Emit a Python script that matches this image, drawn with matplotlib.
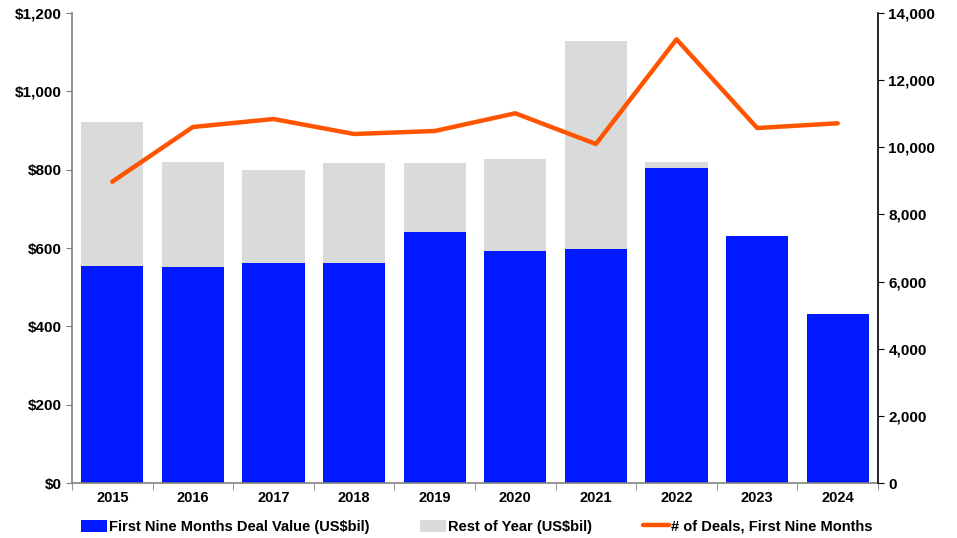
import numpy as np
import matplotlib
matplotlib.use("Agg")
import matplotlib.pyplot as plt
from matplotlib.ticker import FuncFormatter

years = ["2015", "2016", "2017", "2018", "2019", "2020", "2021", "2022", "2023", "2024"]
first_nine = [555, 551, 562, 562, 640, 593, 598, 805, 631, 431]
full_year = [921, 819, 799, 818, 817, 827, 1128, 820, 631, 431]
rest_of_year = [f - n for f, n in zip(full_year, first_nine)]
deals = [8975, 10605, 10843, 10396, 10486, 11013, 10098, 13217, 10575, 10715]

blue = "#0019FF"
grey = "#D9DADA"
orange = "#FF5500"

plt.rcParams["font.family"] = ["Liberation Sans", "DejaVu Sans"]
plt.rcParams["font.weight"] = "bold"

fig = plt.figure(figsize=(9.57, 5.38), dpi=100)
ax = fig.add_axes([0.0752, 0.1022, 0.8423, 0.8736])
ax2 = ax.twinx()

x = np.arange(len(years))
ax.bar(x, first_nine, width=0.77, color=blue, label="First Nine Months Deal Value (US$bil)", zorder=2)
ax.bar(x, rest_of_year, width=0.77, bottom=first_nine, color=grey,
       label="Rest of Year (US$bil)", zorder=2)
ax2.plot(x, deals, color=orange, lw=3.2, solid_capstyle="round",
         label="# of Deals, First Nine Months")

ax.set_xlim(-0.5, len(years) - 0.5)
ax.set_ylim(0, 1200)
ax.set_yticks(np.arange(0, 1201, 200))
ax.yaxis.set_major_formatter(FuncFormatter(lambda v, p: f"${v:,.0f}"))
ax2.set_ylim(0, 14000)
ax2.set_yticks(np.arange(0, 14001, 2000))
ax2.yaxis.set_major_formatter(FuncFormatter(lambda v, p: f"{v:,.0f}"))

# category labels centred, ticks between categories
ax.set_xticks(x)
ax.set_xticklabels(years, fontsize=10.5, fontweight="bold")
ax.tick_params(axis="x", length=0, pad=6)
ax.set_xticks(np.arange(-0.5, len(years), 1), minor=True)
ax.tick_params(axis="x", which="minor", length=5, color="#808080", direction="out")

ax.tick_params(axis="y", labelsize=11, length=4, color="#808080")
ax2.tick_params(axis="y", labelsize=11, length=4, color="black")
for lab in ax.get_yticklabels() + ax2.get_yticklabels():
    lab.set_fontweight("bold")

for a in (ax, ax2):
    a.spines["top"].set_visible(False)
ax.spines["left"].set_color("#808080")
ax.spines["bottom"].set_color("#808080")
ax.spines["right"].set_visible(False)
ax2.spines["left"].set_visible(False)
ax2.spines["bottom"].set_visible(False)
ax2.spines["right"].set_color("black")
for s in ("left", "bottom"):
    ax.spines[s].set_linewidth(1.2)
ax2.spines["right"].set_linewidth(1.2)

h1, l1 = ax.get_legend_handles_labels()
h2, l2 = ax2.get_legend_handles_labels()
fig.legend(h1 + h2, l1 + l2, loc="center", bbox_to_anchor=(0.498, 0.021), ncol=3,
           frameon=False, handlelength=1.8, handleheight=0.9,
           handletextpad=0.1, columnspacing=3.5, prop={"weight": "bold", "size": 10.5})

fig.savefig("out.png", dpi=100)
